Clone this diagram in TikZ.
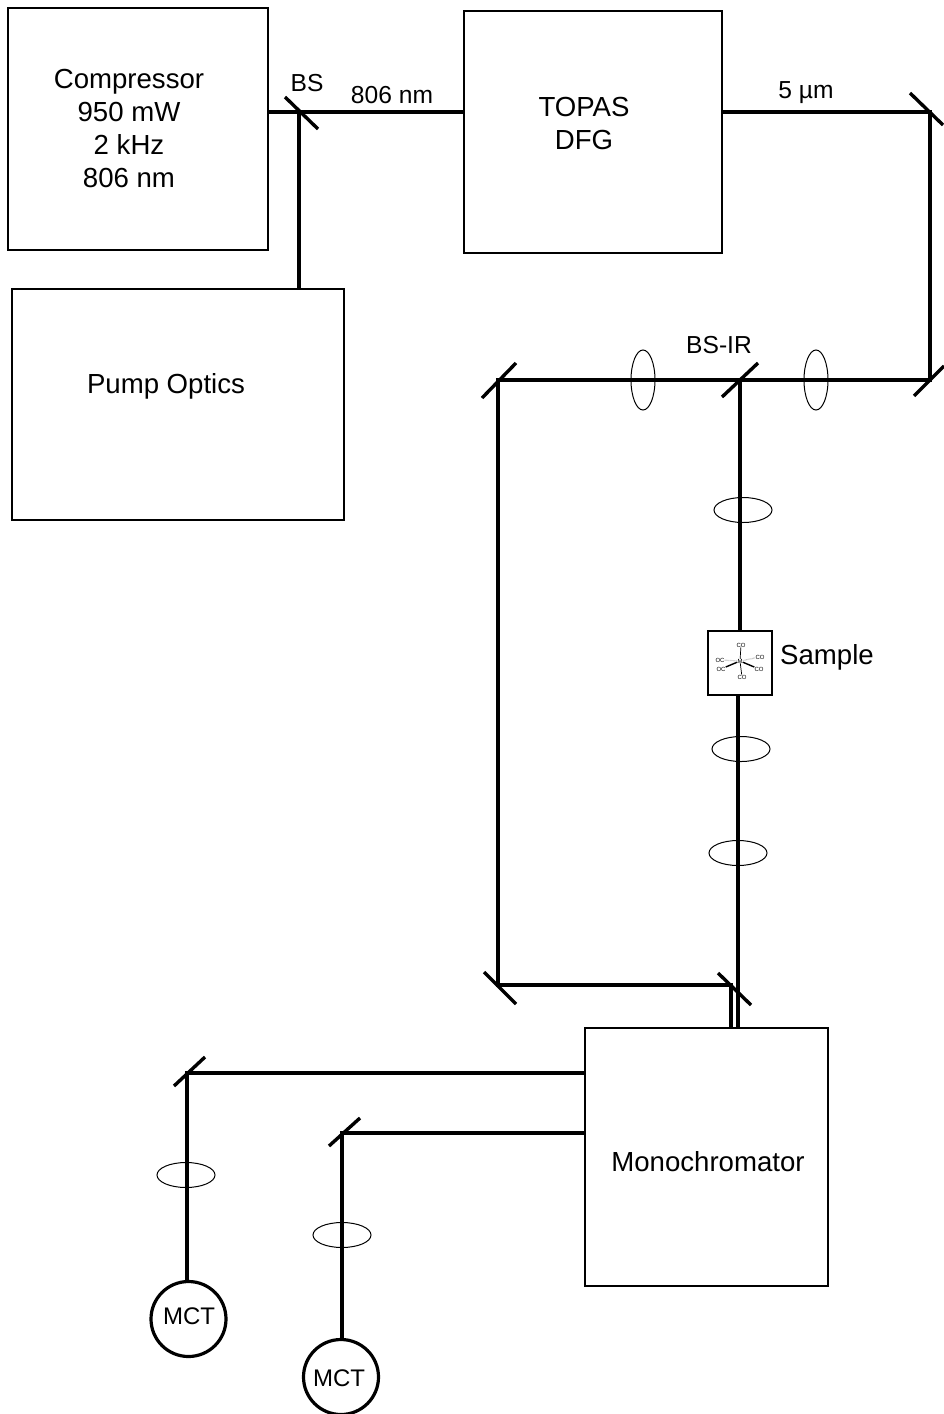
\documentclass[tikz,border=0pt]{standalone}
\usepackage{fontspec}
\setmainfont{Liberation Sans}
\usetikzlibrary{
  shapes.geometric,
  calc
}
\tikzset{
blocktext/.style={
  align=center,
  font=\fontsize{27.6}{33}\selectfont,
  text=black
},
smalltext/.style={
  align=center,
  font=\fontsize{24.6}{30}\selectfont,
  text=black
},
opticbox/.style={
  draw,
  line width=1.2pt,
  inner sep=0pt,
  outer sep=0pt
},
beam/.style={
  draw,
  line width=3.4pt
},
mirrorline/.style={
  draw,
  line width=3.4pt
},
lens/.style={
  draw,
  ellipse,
  line width=1pt,
  inner sep=0pt,
  outer sep=0pt
},
vlens/.style={
  lens,
  minimum width=24pt,
  minimum height=60pt
},
hlens/.style={
  lens,
  minimum width=58pt,
  minimum height=25pt
},
detector/.style={
  draw,
  circle,
  line width=3.2pt,
  minimum size=75pt,
  inner sep=0pt,
  outer sep=0pt
},
ligand/.style={
  font=\fontsize{6}{6}\selectfont,
  inner sep=0pt
}
}

\begin{document}
\begin{tikzpicture}[x=1pt,y=-1pt]
  \useasboundingbox (0,0) rectangle (944,1414);

  % boxes
  \node[opticbox, minimum width=260pt, minimum height=242pt] (compressor) at (138,129) {};
  \node[opticbox, minimum width=332pt, minimum height=231pt] (pump) at (178,404.5) {};
  \node[opticbox, minimum width=258pt, minimum height=242pt] (topas) at (593,132) {};
  \node[opticbox, minimum width=64pt, minimum height=64pt] (sample) at (740,663) {};
  \node[opticbox, minimum width=243pt, minimum height=258pt] (monochromator) at (706.5,1157) {};

  \node[blocktext] (compressortext) at (129,128) {Compressor\\950 mW\\2 kHz\\806 nm};
  \node[blocktext] (pumptext) at (166,386) {Pump Optics};
  \node[blocktext] (topastext) at (584,123) {TOPAS\\DFG};
  \node[blocktext] (monotext) at (708,1162) {Monochromator};
  \node[blocktext] (samplelabel) at (827,657) {Sample};
  \node[smalltext] (bslabel) at (307,83) {BS};
  \node[smalltext] (pumplabel) at (392,95) {806 nm};
  \node[smalltext] (midirlabel) at (806,93) {5 µm};
  \node[smalltext] (bsirlabel) at (719,345) {BS-IR};

  % beam corners
  \coordinate (bs) at (299,112);
  \coordinate (mtr) at (930,112);
  \coordinate (mbr) at (930,380);
  \coordinate (bsir) at (740,380);
  \coordinate (mul) at (498,380);
  \coordinate (mll) at (498,985);
  \coordinate (mlr) at (731,985);
  \coordinate (monoin) at (738,1028);
  \coordinate (mdeta) at (187,1073);
  \coordinate (mdetb) at (342,1133);

  % lenses
  \node[vlens] (lensa) at (643,380) {};
  \node[vlens] (lensb) at (816,380) {};
  \node[hlens] (lensc) at (743,510) {};
  \node[hlens] (lensd) at (741,749) {};
  \node[hlens] (lense) at (738,853) {};
  \node[hlens] (lensf) at (186,1175) {};
  \node[hlens] (lensg) at (342,1235) {};

  % detectors
  \node[detector] (deta) at (188.5,1319) {};
  \node[detector] (detb) at (341,1377) {};
  \node[smalltext, font=\fontsize{24}{30}\selectfont] (detatext) at (189,1316) {MCT};
  \node[smalltext, font=\fontsize{24}{30}\selectfont] (detbtext) at (339,1378) {MCT};

  % beams
  \draw[beam] (bs -| compressor.east) -- (bs -| topas.west);
  \draw[beam] (bs) -- (bs |- pump.north);
  \draw[beam] (topas.east |- mtr) -- (mtr) -- (mbr) -- (mul) -- (mll) -- (mlr) -- (mlr |- monochromator.north);
  \draw[beam] (bsir) -- (bsir |- sample.north);
  \draw[beam] (monoin |- sample.south) -- (monoin);
  \draw[beam] (monochromator.west |- mdeta) -- (mdeta) -- (mdeta |- deta.north);
  \draw[beam] (monochromator.west |- mdetb) -- (mdetb) -- (mdetb |- detb.north);

  % mirrors
  \foreach \m/\ax/\ay/\bx/\by in {
    bs/-14/-15/19/17,
    mtr/-20/-19/13/13,
    mbr/-16/16/14/-14,
    bsir/-18/17/18/-17,
    mul/-16/18/18/-17,
    mll/-14/-13/18/19,
    mlr/-13/-12/20/20,
    mdeta/-13/13/18/-16,
    mdetb/-13/13/18/-15
  }{
    \draw[mirrorline] ($(\m)+(\ax,\ay)$) -- ($(\m)+(\bx,\by)$);
  }

  % molecule in the sample
  \node[ligand] (metal) at (740,661) {M};
  \node[ligand] (cotop) at (741,645) {CO};
  \node[ligand] (cobot) at (742,677) {CO};
  \node[ligand] (ocleftup) at (720,660) {OC};
  \node[ligand] (ocleftdn) at (721,669) {OC};
  \node[ligand] (corightup) at (760,657) {CO};
  \node[ligand] (corightdn) at (759,669) {CO};
  \draw[line width=0.7pt] (metal) -- (cotop);
  \draw[line width=0.7pt] (metal) -- (cobot);
  \draw[line width=1.4pt] (metal) -- (ocleftdn);
  \draw[line width=1.4pt] (metal) -- (corightdn);
  \draw[line width=1.2pt, gray!50, dash pattern=on 0.6pt off 0.6pt] (metal) -- (ocleftup);
  \draw[line width=1.2pt, gray!50, dash pattern=on 0.6pt off 0.6pt] (metal) -- (corightup);
\end{tikzpicture}
\end{document}
